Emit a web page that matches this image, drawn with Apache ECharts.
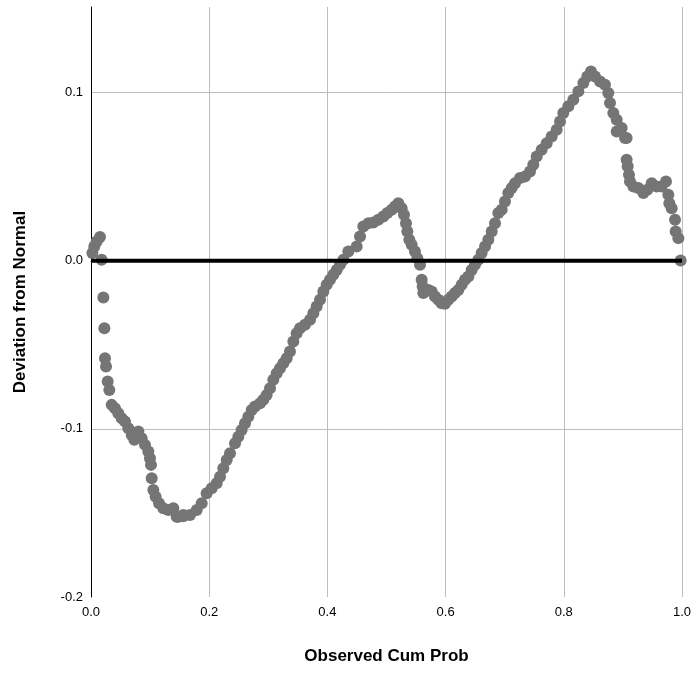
<!DOCTYPE html>
<html>
<head>
<meta charset="utf-8">
<script src="https://cdn.jsdelivr.net/npm/echarts@6/dist/echarts.min.js"></script>
<style>html,body{margin:0;padding:0;background:#fff}#c{width:696px;height:673px}</style>
</head>
<body>
<div id="c"></div>
<script>
// Observed cumulative probability (x) and deviation from normal (y)
const obsCumProb = [0.0023,0.0056,0.0096,0.0152,0.018,0.0209,0.0226,0.0237,0.0254,0.0282,0.031,0.035,0.0406,0.0462,0.0519,0.0575,0.0632,0.0688,0.0733,0.0801,0.0857,0.0914,0.097,0.0998,0.1015,0.1027,0.1055,0.1094,0.1151,0.1224,0.1308,0.1393,0.145,0.1478,0.156,0.1562,0.1675,0.1788,0.1873,0.1957,0.2042,0.2126,0.2183,0.2239,0.2296,0.2352,0.2437,0.2493,0.2549,0.2606,0.2662,0.2719,0.2775,0.286,0.2916,0.2972,0.3029,0.3085,0.3142,0.3198,0.3254,0.3311,0.3367,0.3424,0.348,0.3536,0.3621,0.3706,0.3762,0.3818,0.3875,0.3931,0.3988,0.4044,0.41,0.4157,0.4213,0.427,0.4354,0.4495,0.4552,0.4608,0.4693,0.4777,0.4862,0.4946,0.5014,0.5088,0.5144,0.52,0.5257,0.5296,0.533,0.5353,0.5386,0.5426,0.5482,0.5522,0.5567,0.5595,0.5612,0.5623,0.5708,0.5764,0.582,0.5877,0.5933,0.599,0.6046,0.6103,0.6159,0.6215,0.6272,0.6328,0.6385,0.6441,0.6497,0.6554,0.661,0.6667,0.6723,0.678,0.6836,0.6892,0.6949,0.7005,0.7061,0.7118,0.7174,0.7259,0.7343,0.7428,0.7484,0.7541,0.7625,0.771,0.7795,0.7879,0.7936,0.7992,0.8077,0.8161,0.8246,0.8331,0.8398,0.846,0.8528,0.8613,0.8697,0.8753,0.8782,0.8838,0.8895,0.8895,0.8979,0.9036,0.9063,0.9063,0.9081,0.9103,0.912,0.9177,0.9261,0.9346,0.9413,0.9487,0.9571,0.9656,0.9729,0.9769,0.9786,0.9825,0.9882,0.9893,0.9938,0.9977];
const deviation = [0.0046,0.0085,0.0115,0.0141,0.0006,-0.0218,-0.0401,-0.0579,-0.0629,-0.0718,-0.0768,-0.0857,-0.0877,-0.0907,-0.0937,-0.0956,-0.0996,-0.1036,-0.1065,-0.1016,-0.1056,-0.1095,-0.1135,-0.1175,-0.1214,-0.1294,-0.1363,-0.1403,-0.1442,-0.1472,-0.1482,-0.1472,-0.1522,-0.1522,-0.152,-0.1512,-0.1512,-0.1482,-0.1442,-0.1383,-0.1353,-0.1323,-0.1284,-0.1234,-0.1185,-0.1145,-0.1085,-0.1046,-0.1006,-0.0966,-0.0927,-0.0887,-0.0867,-0.0847,-0.0827,-0.0798,-0.0758,-0.0708,-0.0669,-0.0639,-0.0609,-0.0579,-0.054,-0.048,-0.0431,-0.0401,-0.0381,-0.0351,-0.0312,-0.0272,-0.0232,-0.0183,-0.0143,-0.0113,-0.0083,-0.0054,-0.0024,0.0006,0.0056,0.0085,0.0145,0.0204,0.0224,0.0228,0.0244,0.0264,0.0284,0.0304,0.0323,0.0343,0.0313,0.0274,0.0224,0.0175,0.0125,0.0095,0.0056,0.0016,-0.0024,-0.0113,-0.0153,-0.0192,-0.0173,-0.0183,-0.0212,-0.0232,-0.0252,-0.0256,-0.0232,-0.0212,-0.0192,-0.0173,-0.0143,-0.0113,-0.0093,-0.0054,-0.0024,0.0006,0.0046,0.0085,0.0125,0.0175,0.0224,0.0284,0.0304,0.0353,0.0403,0.0433,0.0462,0.0492,0.0502,0.0532,0.0571,0.0621,0.0661,0.07,0.074,0.078,0.0829,0.0879,0.0919,0.0958,0.1008,0.1058,0.1097,0.1127,0.1097,0.1067,0.1048,0.0998,0.0939,0.0879,0.0839,0.077,0.079,0.073,0.073,0.0601,0.0562,0.0512,0.0472,0.0442,0.0433,0.0403,0.0423,0.0462,0.0442,0.0442,0.0472,0.0393,0.0343,0.0313,0.0244,0.0175,0.0135,0.0002];
const refLineX = [0, 1];
const refLineY = [0, 0];
const xTitle = 'Observed Cum Prob';
const yTitle = 'Deviation from Normal';

const chart = echarts.init(document.getElementById('c'), null, {renderer: 'canvas'});
const font = '"Liberation Sans", Arial, sans-serif';
chart.setOption({
  animation: false,
  backgroundColor: '#ffffff',
  grid: {left: 91, right: 14, top: 7, bottom: 76, containLabel: false},
  xAxis: {
    type: 'value', min: 0, max: 1, interval: 0.2,
    name: xTitle, nameLocation: 'middle', nameGap: 51,
    nameTextStyle: {fontFamily: font, fontSize: 17, fontWeight: 'bold', color: '#000'},
    axisLine: {show: true, lineStyle: {color: '#000', width: 1}},
    axisTick: {show: false},
    axisLabel: {fontFamily: font, fontSize: 13, color: '#000', margin: 9,
      formatter: v => v.toFixed(1)},
    splitLine: {show: true, showMinLine: false, lineStyle: {color: '#bdbdbd', width: 1}}
  },
  yAxis: {
    type: 'value', min: -0.2, max: 0.151, interval: 0.1,
    name: yTitle, nameLocation: 'middle', nameGap: 62, nameRotate: 90,
    nameTextStyle: {fontFamily: font, fontSize: 17, fontWeight: 'bold', color: '#000'},
    axisLine: {show: true, onZero: false, lineStyle: {color: '#000', width: 1}},
    axisTick: {show: false},
    axisLabel: {fontFamily: font, fontSize: 13, color: '#000', margin: 8, showMaxLabel: false,
      formatter: v => (Math.abs(v) < 1e-9 ? 0 : v).toFixed(1)},
    splitLine: {show: true, showMinLine: false, showMaxLine: false, lineStyle: {color: '#bdbdbd', width: 1}}
  },
  series: [
    {
      type: 'scatter',
      data: obsCumProb.map((x, i) => [x, deviation[i]]),
      symbol: 'circle', symbolSize: 12,
      itemStyle: {color: '#757575', opacity: 1},
      z: 2
    },
    {
      type: 'line',
      data: refLineX.map((x, i) => [x, refLineY[i]]),
      symbol: 'none',
      lineStyle: {color: '#000', width: 4},
      z: 3
    }
  ]
});
</script>
</body>
</html>
